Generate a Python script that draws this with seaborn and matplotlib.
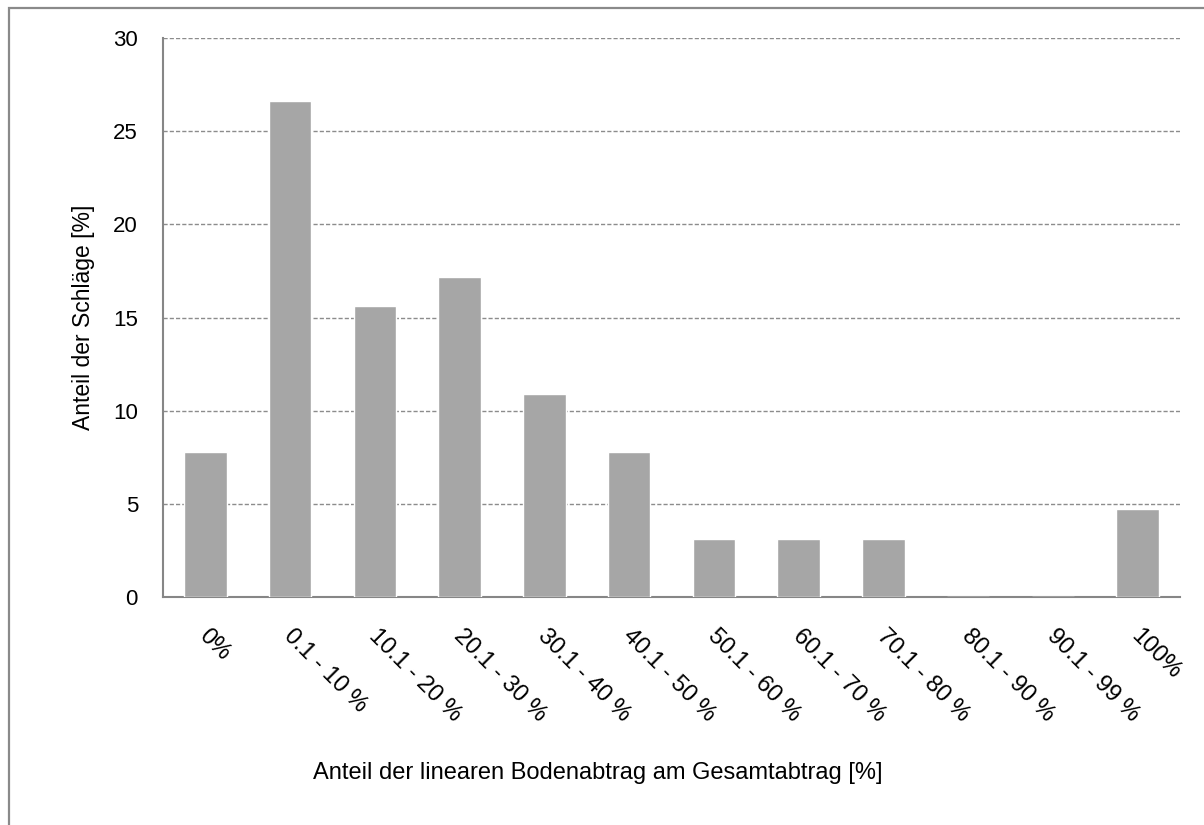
import matplotlib
matplotlib.use("Agg")
import matplotlib.pyplot as plt
import matplotlib.patches as mpatches
import matplotlib.transforms as mtransforms
import seaborn as sns
import pandas as pd

categories = ["0%", "0.1 - 10 %", "10.1 - 20 %", "20.1 - 30 %", "30.1 - 40 %",
              "40.1 - 50 %", "50.1 - 60 %", "60.1 - 70 %", "70.1 - 80 %",
              "80.1 - 90 %", "90.1 - 99 %", "100%"]
shares = [7.8, 26.6, 15.6, 17.2, 10.9, 7.8, 3.1, 3.1, 3.1, 0.0, 0.0, 4.7]
y_ticks = [0, 5, 10, 15, 20, 25, 30]

sns.set_theme(style="white")
plt.rcParams["font.family"] = ["Liberation Sans", "DejaVu Sans"]

df = pd.DataFrame({"Klasse": categories, "Anteil": shares})

fig = plt.figure(figsize=(12.04, 8.25), dpi=100)
ax = fig.add_axes([163 / 1204, 1 - 597 / 825, (1180 - 163) / 1204, (597 - 38) / 825])

sns.barplot(data=df, x="Klasse", y="Anteil", color="#A6A6A6", saturation=1,
            width=0.5, ax=ax, zorder=3)

ax.set_ylim(0, 30)
ax.set_xlim(-0.5, len(categories) - 0.5)
ax.set_yticks(y_ticks)
ax.set_yticklabels([str(t) for t in y_ticks], fontsize=16, color="black")

for t in y_ticks[1:]:
    ax.axhline(t, color="#8C8C8C", linewidth=1.0, linestyle=(0, (3, 1.5)), zorder=1)

ax.set_xticks(range(len(categories)))
ax.set_xticklabels(categories, rotation=-45, ha="left", va="top",
                   rotation_mode="anchor", fontsize=17, color="black")
ax.tick_params(axis="x", length=0, pad=20)
ax.tick_params(axis="y", length=0, pad=18)

shift = mtransforms.ScaledTranslation(5 / 100, 0, fig.dpi_scale_trans)
for lbl in ax.get_xticklabels():
    lbl.set_transform(lbl.get_transform() + shift)

for side in ["top", "right"]:
    ax.spines[side].set_visible(False)
for side in ["left", "bottom"]:
    ax.spines[side].set_color("#868686")
    ax.spines[side].set_linewidth(1.5)

ax.set_ylabel("Anteil der Schläge [%]", fontsize=16.5, color="black", labelpad=13)
ax.set_xlabel("")
fig.text(0.5 * (310 + 885) / 1204, 1 - 773 / 825,
         "Anteil der linearen Bodenabtrag am Gesamtabtrag [%]",
         fontsize=17, ha="center", va="center", color="black")

# outer chart frame
frame = mpatches.Rectangle((8.5 / 1204, -0.1), 1.2, 1 - 8.5 / 825 + 0.1,
                           transform=fig.transFigure, fill=False,
                           edgecolor="#8A8A8A", linewidth=1.6)
fig.patches.append(frame)

fig.savefig("out.png", dpi=100, facecolor="white")
